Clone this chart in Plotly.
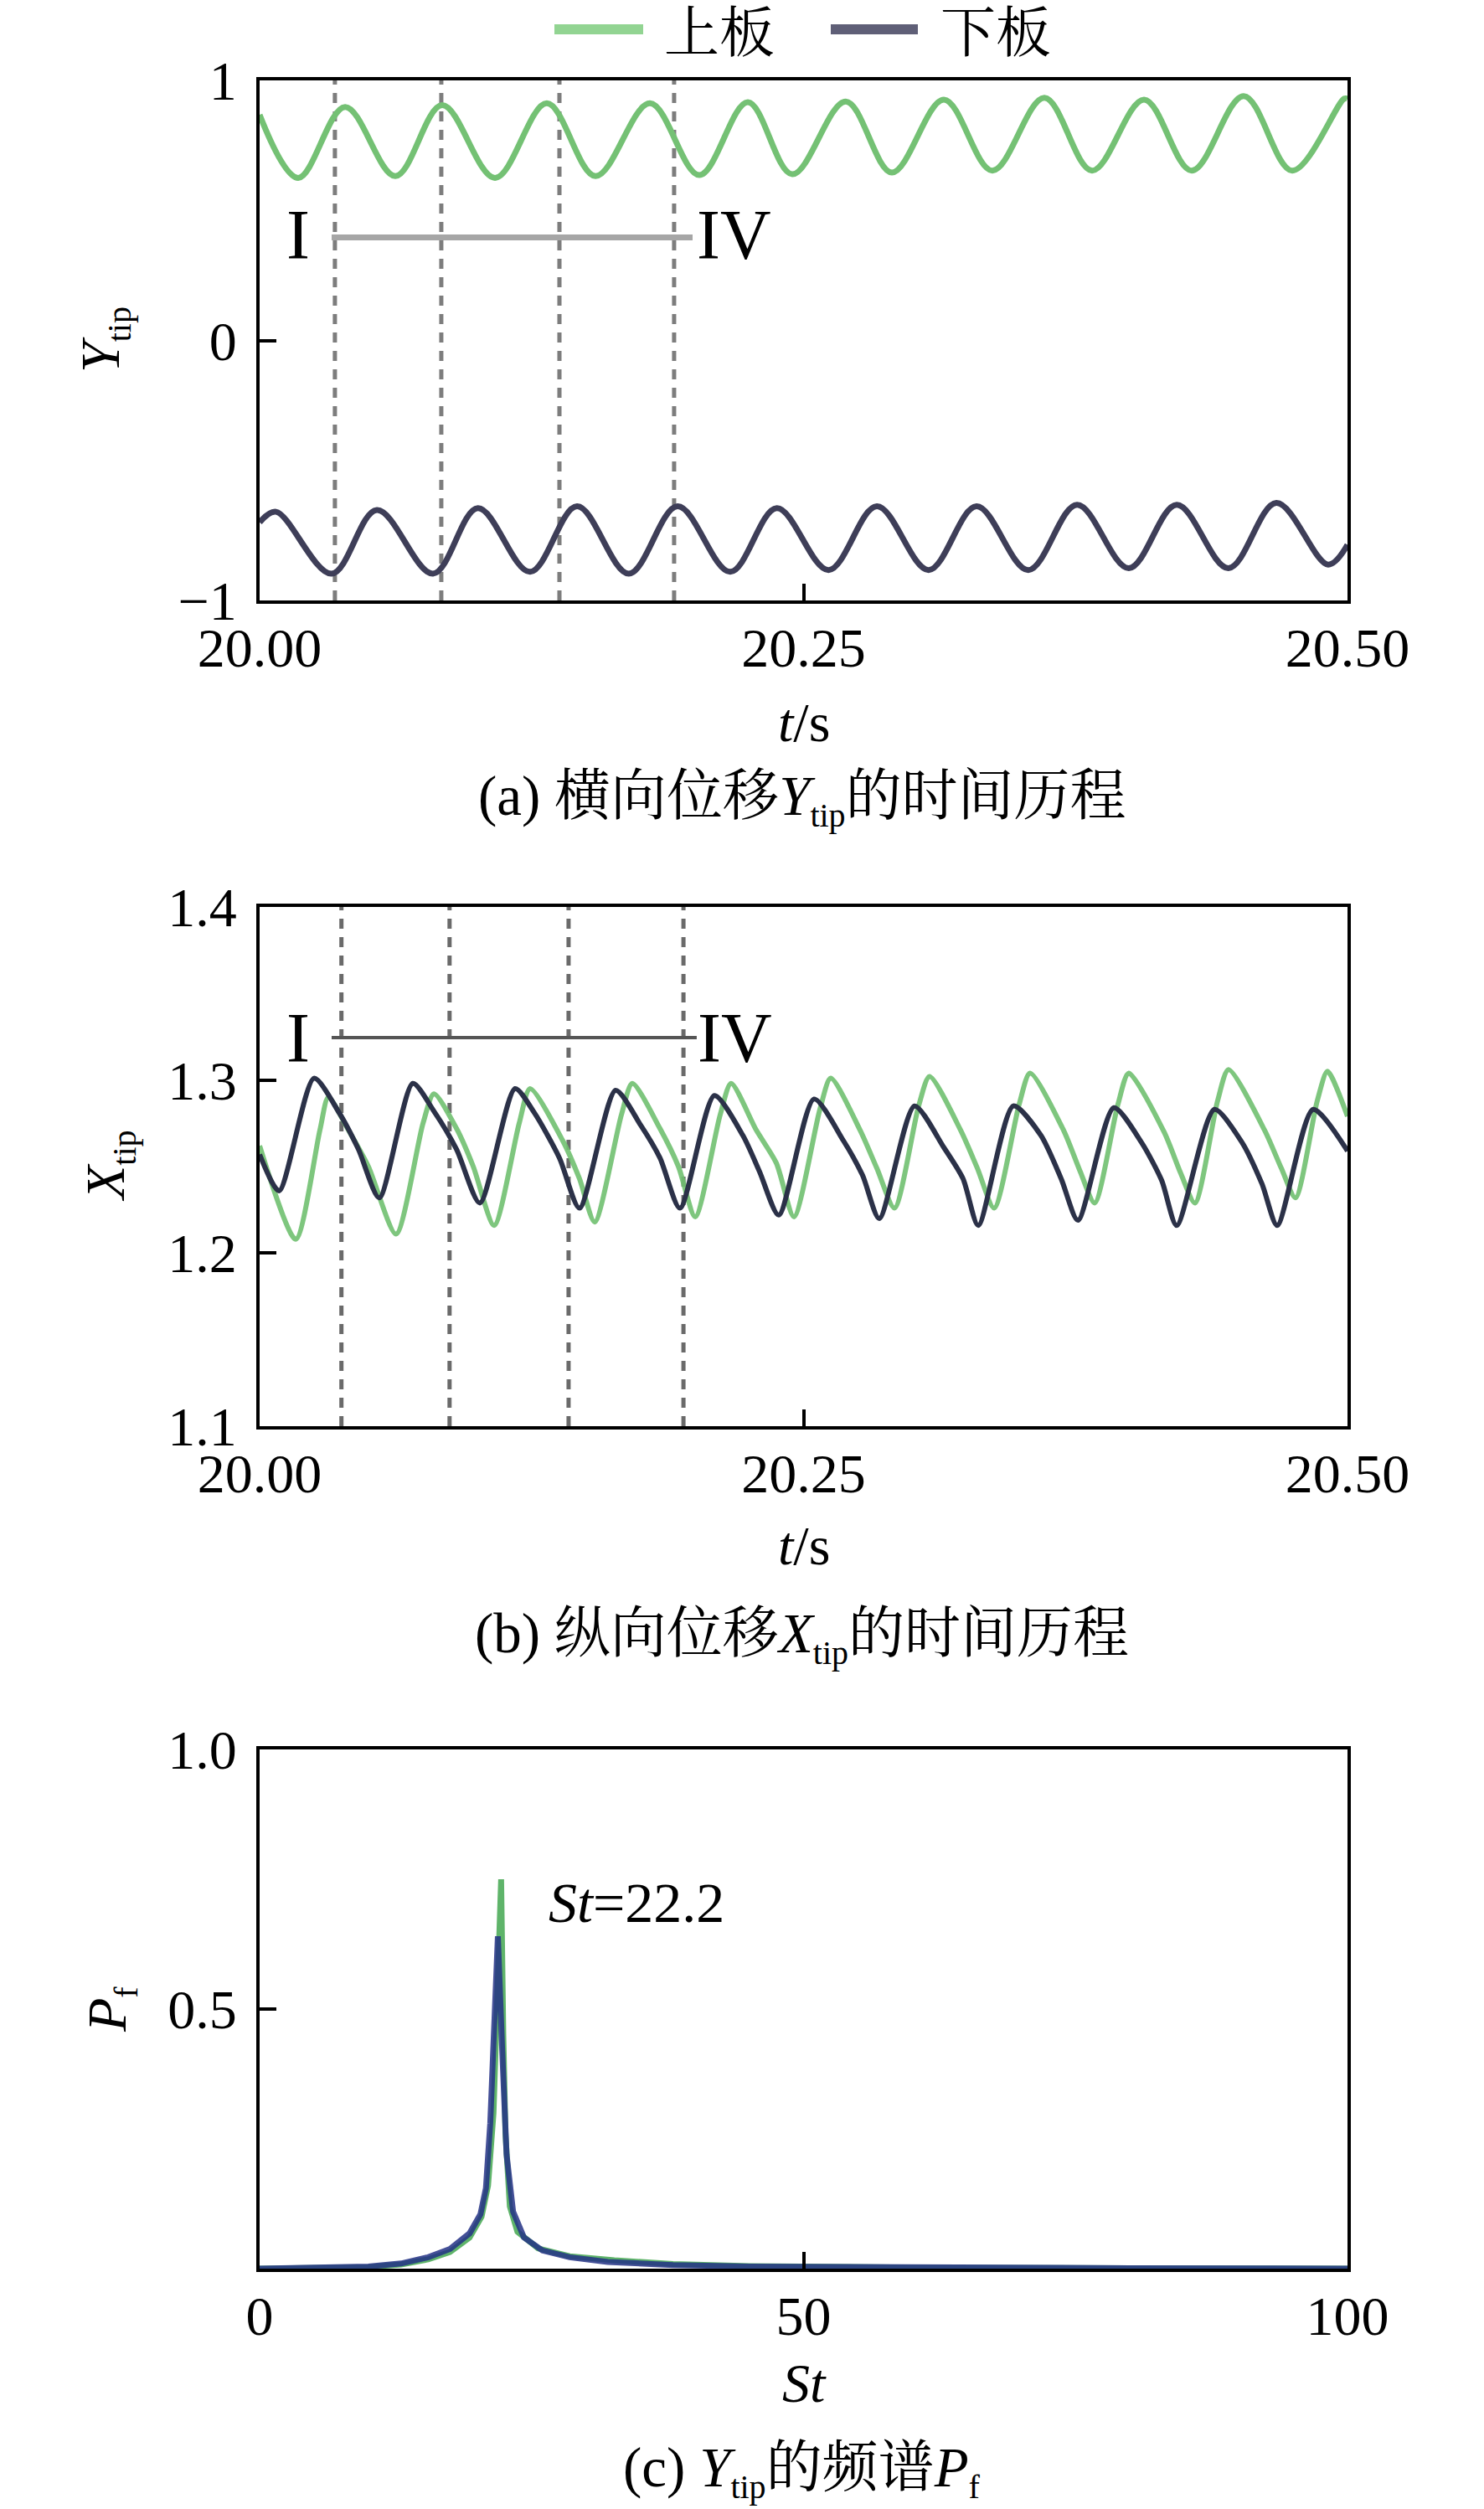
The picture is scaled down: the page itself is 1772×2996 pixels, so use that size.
import plotly.graph_objects as go

W, H = 1772, 2996

# ---------------- data ----------------
# (a) lateral tip displacement Y_tip
t_a_upper = [20.0000, 20.0177, 20.0393, 20.0624, 20.0839, 20.1082, 20.1320, 20.1544,
             20.1794, 20.2021, 20.2244, 20.2448, 20.2694, 20.2906, 20.3145, 20.3368,
             20.3607, 20.3826, 20.4065, 20.4284, 20.4523, 20.4746, 20.4985, 20.5000]
y_a_upper = [0.868, 0.625, 0.898, 0.632, 0.905, 0.625, 0.912, 0.632,
             0.912, 0.636, 0.916, 0.639, 0.919, 0.646, 0.926, 0.653,
             0.933, 0.653, 0.926, 0.653, 0.940, 0.653, 0.930, 0.929]
t_a_lower = [20.0000, 20.0075, 20.0331, 20.0539, 20.0797, 20.1003, 20.1243, 20.1459,
             20.1697, 20.1921, 20.2163, 20.2377, 20.2615, 20.2837, 20.3075, 20.3295,
             20.3533, 20.3757, 20.3995, 20.4215, 20.4453, 20.4673, 20.4911, 20.5000]
y_a_lower = [-0.700, -0.659, -0.897, -0.652, -0.897, -0.645, -0.890, -0.638,
             -0.897, -0.638, -0.890, -0.645, -0.883, -0.638, -0.883, -0.638,
             -0.883, -0.632, -0.876, -0.632, -0.876, -0.625, -0.862, -0.786]

# (b) streamwise tip displacement X_tip
t_b_upper = [20.0000, 20.0166, 20.0277, 20.0316, 20.0404, 20.0500, 20.0627, 20.0751,
             20.0801, 20.0905, 20.0982, 20.1078, 20.1193, 20.1243, 20.1393, 20.1470,
             20.1540, 20.1663, 20.1713, 20.1840, 20.1925, 20.2002, 20.2117, 20.2167,
             20.2283, 20.2375, 20.2456, 20.2575, 20.2625, 20.2760, 20.2837, 20.2918,
             20.3029, 20.3079, 20.3222, 20.3299, 20.3376, 20.3491, 20.3541, 20.3695,
             20.3772, 20.3838, 20.3945, 20.3995, 20.4157, 20.4234, 20.4299, 20.4403,
             20.4453, 20.4619, 20.4696, 20.4761, 20.4861, 20.4908, 20.5000]
x_b_upper = [1.262, 1.208, 1.271, 1.290, 1.272, 1.250, 1.211, 1.275,
             1.292, 1.272, 1.250, 1.216, 1.275, 1.295, 1.265, 1.243,
             1.218, 1.280, 1.298, 1.272, 1.250, 1.221, 1.280, 1.298,
             1.271, 1.252, 1.221, 1.283, 1.301, 1.271, 1.249, 1.226,
             1.285, 1.302, 1.271, 1.249, 1.226, 1.286, 1.304, 1.271,
             1.247, 1.229, 1.286, 1.304, 1.270, 1.246, 1.229, 1.288,
             1.306, 1.271, 1.249, 1.232, 1.288, 1.305, 1.279]
t_b_lower = [20.0000, 20.0089, 20.0250, 20.0366, 20.0454, 20.0550, 20.0704, 20.0801,
             20.0905, 20.1012, 20.1174, 20.1263, 20.1378, 20.1470, 20.1636, 20.1751,
             20.1840, 20.1932, 20.2090, 20.2221, 20.2298, 20.2386, 20.2548, 20.2683,
             20.2771, 20.2848, 20.3010, 20.3145, 20.3233, 20.3303, 20.3464, 20.3591,
             20.3684, 20.3761, 20.3926, 20.4053, 20.4146, 20.4215, 20.4388, 20.4515,
             20.4607, 20.4677, 20.4842, 20.5000]
x_b_lower = [1.257, 1.236, 1.301, 1.281, 1.260, 1.232, 1.298, 1.282,
             1.260, 1.229, 1.295, 1.281, 1.255, 1.226, 1.294, 1.274,
             1.255, 1.226, 1.291, 1.268, 1.247, 1.222, 1.289, 1.265,
             1.245, 1.220, 1.285, 1.261, 1.243, 1.216, 1.285, 1.268,
             1.243, 1.219, 1.284, 1.264, 1.242, 1.216, 1.283, 1.264,
             1.240, 1.216, 1.283, 1.259]

# (c) spectrum of Y_tip
st_upper = [0, 5, 10, 13, 15.5, 17.5, 19.3, 20.4, 21.0, 21.5, 21.9, 22.2, 22.4, 22.6,
            23.0, 23.7, 25.6, 28.5, 32.6, 38, 45, 60, 80, 100]
pf_upper = [0, 0.001, 0.003, 0.008, 0.018, 0.032, 0.060, 0.100, 0.160, 0.300, 0.520,
            0.750, 0.450, 0.260, 0.120, 0.071, 0.039, 0.024, 0.016, 0.009, 0.005,
            0.002, 0.001, 0]
st_lower = [0, 5, 10, 13, 15.5, 17.5, 19.3, 20.3, 20.8, 21.2, 21.5, 21.9, 22.3, 22.7,
            23.3, 24.3, 26, 28.5, 32, 38, 45, 60, 80, 100]
pf_lower = [0, 0.001, 0.004, 0.010, 0.022, 0.038, 0.068, 0.105, 0.155, 0.280, 0.450,
            0.640, 0.420, 0.220, 0.110, 0.060, 0.035, 0.022, 0.013, 0.007, 0.004,
            0.002, 0.001, 0]

# phase markers I..IV
marks_a = [20.0346, 20.0835, 20.1378, 20.1905]
marks_b = [20.0376, 20.0873, 20.1420, 20.1948]
span_a = [20.0331, 20.1990]
span_a_y = 0.396
span_b = [20.0331, 20.2009]
span_b_y = 1.3245

series_names = ["上板", "下板"]
t_ticks = [20.0, 20.25, 20.5]
t_ticktext = ["20.00", "20.25", "20.50"]
ya_ticks = [-1, 0, 1]
ya_ticktext = ["\u22121", "0", "1"]
xb_ticks = [1.1, 1.2, 1.3, 1.4]
xb_ticktext = ["1.1", "1.2", "1.3", "1.4"]
st_ticks = [0, 50, 100]
st_ticktext = ["0", "50", "100"]
pf_ticks = [0.5, 1.0]
pf_ticktext = ["0.5", "1.0"]

# ---------------- styling ----------------
SERIF = "Liberation Serif, Times New Roman, Noto Serif CJK SC, Noto Sans CJK SC, serif"
GREEN_A = "#74c174"
NAVY_A = "#3e3e58"
GREEN_B = "rgba(112,192,112,0.9)"
NAVY_B = "#2b3148"
GREEN_C = "#5fb46a"
NAVY_C = "#243286"
DASH_A = "#7d7d7d"
DASH_B = "#6a6a6a"
TICK_SIZE = 66


def px(x):
    return x / W


def py(y):
    return 1 - y / H


fig = go.Figure()

# ---- panel (a)
for t in marks_a:
    fig.add_trace(go.Scatter(x=[t, t], y=[-1, 1], mode="lines", xaxis="x", yaxis="y",
                             line=dict(color=DASH_A, width=5, dash="12px,10px"),
                             showlegend=False, hoverinfo="skip"))
fig.add_trace(go.Scatter(x=span_a, y=[span_a_y, span_a_y], mode="lines", xaxis="x", yaxis="y",
                         line=dict(color="#a6a6a6", width=7), showlegend=False, hoverinfo="skip"))
fig.add_trace(go.Scatter(x=t_a_upper, y=y_a_upper, mode="lines", name=series_names[0],
                         xaxis="x", yaxis="y", showlegend=False,
                         line=dict(color=GREEN_A, width=7, shape="spline", smoothing=1.0)))
fig.add_trace(go.Scatter(x=t_a_lower, y=y_a_lower, mode="lines", name=series_names[1],
                         xaxis="x", yaxis="y", showlegend=False,
                         line=dict(color=NAVY_A, width=7, shape="spline", smoothing=1.0)))

# ---- panel (b)
for t in marks_b:
    fig.add_trace(go.Scatter(x=[t, t], y=[1.1, 1.4], mode="lines", xaxis="x2", yaxis="y2",
                             line=dict(color=DASH_B, width=5, dash="12px,10px"),
                             showlegend=False, hoverinfo="skip"))
fig.add_trace(go.Scatter(x=span_b, y=[span_b_y, span_b_y], mode="lines", xaxis="x2", yaxis="y2",
                         line=dict(color="#555555", width=4), showlegend=False, hoverinfo="skip"))
fig.add_trace(go.Scatter(x=t_b_upper, y=x_b_upper, mode="lines", name=series_names[0],
                         xaxis="x2", yaxis="y2", showlegend=False,
                         line=dict(color=GREEN_B, width=6, shape="spline", smoothing=0.7)))
fig.add_trace(go.Scatter(x=t_b_lower, y=x_b_lower, mode="lines", name=series_names[1],
                         xaxis="x2", yaxis="y2", showlegend=False,
                         line=dict(color=NAVY_B, width=6, shape="spline", smoothing=0.7)))

# ---- panel (c)
fig.add_trace(go.Scatter(x=st_upper, y=pf_upper, mode="lines", name=series_names[0],
                         xaxis="x3", yaxis="y3", showlegend=False,
                         line=dict(color=GREEN_C, width=7)))
fig.add_trace(go.Scatter(x=st_lower, y=pf_lower, mode="lines", name=series_names[1],
                         xaxis="x3", yaxis="y3", showlegend=False, opacity=0.85,
                         line=dict(color=NAVY_C, width=7)))

axis_common = dict(showline=True, linecolor="black", linewidth=4, mirror=True,
                   ticks="inside", ticklen=20, tickwidth=4, tickcolor="black",
                   showgrid=False, zeroline=False, automargin=False,
                   tickfont=dict(family=SERIF, size=TICK_SIZE, color="black"))

XSO = -4   # x tick label standoff
YSO = 10   # y tick label standoff
xdom = [px(310), px(1609)]
fig.update_layout(
    width=W, height=H, margin=dict(l=0, r=0, t=0, b=0, autoexpand=False),
    paper_bgcolor="white", plot_bgcolor="white", showlegend=False,
    xaxis=dict(domain=xdom, range=[20, 20.5], anchor="y", tickvals=t_ticks,
               ticktext=t_ticktext, ticklabelstandoff=XSO, **axis_common),
    yaxis=dict(domain=[py(717), py(96)], range=[-1, 1], anchor="x", tickvals=ya_ticks,
               ticktext=ya_ticktext, ticklabelstandoff=YSO, **axis_common),
    xaxis2=dict(domain=xdom, range=[20, 20.5], anchor="y2", tickvals=t_ticks,
                ticktext=t_ticktext, ticklabelstandoff=XSO, **axis_common),
    yaxis2=dict(domain=[py(1703), py(1083)], range=[1.1, 1.4], anchor="x2", tickvals=xb_ticks,
                ticktext=xb_ticktext, ticklabelstandoff=YSO, **axis_common),
    xaxis3=dict(domain=xdom, range=[0, 100], anchor="y3", tickvals=st_ticks,
                ticktext=st_ticktext, ticklabelstandoff=XSO, **axis_common),
    yaxis3=dict(domain=[py(2709), py(2089)], range=[0, 1.0], anchor="x3", tickvals=pf_ticks,
                ticktext=pf_ticktext, ticklabelstandoff=YSO, **axis_common),
)

SUB = '<sub><span style="font-size:40px">{}</span></sub>'
annots = []


def txt(x, y, text, size=66, angle=0):
    annots.append(dict(x=px(x), y=py(y), xref="paper", yref="paper", text=text,
                       showarrow=False, xanchor="center", yanchor="middle",
                       textangle=angle, font=dict(family=SERIF, size=size, color="black")))


# axis titles
txt(124, 406, "<i>Y</i>" + SUB.format("tip"), angle=-90)
txt(130, 1392, "<i>X</i>" + SUB.format("tip"), angle=-90)
txt(132, 2400, "<i>P</i>" + SUB.format("f"), angle=-90)
txt(960, 862, "<i>t</i>/s")
txt(960, 1846, "<i>t</i>/s")
txt(960, 2845, "<i>St</i>")
# captions
txt(958, 955, "(a) 横向位移<i>Y</i>" + SUB.format("tip") + "的时间历程", size=67)
txt(958, 1954, "(b) 纵向位移<i>X</i>" + SUB.format("tip") + "的时间历程", size=67)
txt(958, 2950, "(c) <i>Y</i>" + SUB.format("tip") + "的频谱<i>P</i>" + SUB.format("f"), size=67)
# spectrum peak label
txt(760, 2272, "<i>St</i>=22.2", size=68)

# phase labels in data coordinates
for (xr, yr, tx, yv) in [("x", "y", 20.0177, 0.405), ("x", "y", 20.2179, 0.405),
                         ("x2", "y2", 20.0177, 1.3245), ("x2", "y2", 20.2184, 1.3245)]:
    label = "I" if tx < 20.1 else "IV"
    annots.append(dict(x=tx, y=yv, xref=xr, yref=yr, text=label, showarrow=False,
                       xanchor="center", yanchor="middle",
                       font=dict(family=SERIF, size=84, color="black")))

# legend (drawn manually to match the long line samples)
shapes = [
    dict(type="line", xref="paper", yref="paper", x0=px(662), x1=px(768), y0=py(35), y1=py(35),
         line=dict(color="#92d492", width=12)),
    dict(type="line", xref="paper", yref="paper", x0=px(992), x1=px(1096), y0=py(35), y1=py(35),
         line=dict(color="#5f5f77", width=12)),
]
txt(859, 39, series_names[0], size=66)
txt(1189, 39, series_names[1], size=66)

fig.update_layout(annotations=annots, shapes=shapes)
fig.write_html("out.html", config={"displayModeBar": False},
               post_script="document.body.style.margin='0';document.body.style.overflow='hidden';")
